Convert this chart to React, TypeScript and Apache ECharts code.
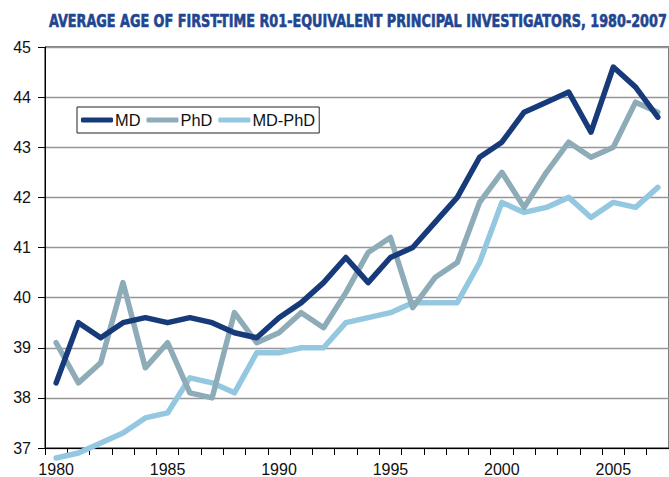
import React, { useEffect, useRef } from "react";
import * as echarts from "echarts";

const years: string[] = [
  "1980", "1981", "1982", "1983", "1984", "1985", "1986", "1987", "1988", "1989",
  "1990", "1991", "1992", "1993", "1994", "1995", "1996", "1997", "1998", "1999",
  "2000", "2001", "2002", "2003", "2004", "2005", "2006", "2007",
];

const mdValues: number[] = [
  38.3, 39.5, 39.2, 39.5, 39.6, 39.5, 39.6, 39.5, 39.3, 39.2,
  39.6, 39.9, 40.3, 40.8, 40.3, 40.8, 41.0, 41.5, 42.0, 42.8,
  43.1, 43.7, 43.9, 44.1, 43.3, 44.6, 44.2, 43.6,
];

const phdValues: number[] = [
  39.1, 38.3, 38.7, 40.3, 38.6, 39.1, 38.1, 38.0, 39.7, 39.1,
  39.3, 39.7, 39.4, 40.1, 40.9, 41.2, 39.8, 40.4, 40.7, 41.9,
  42.5, 41.8, 42.5, 43.1, 42.8, 43.0, 43.9, 43.7,
];

const mdPhdValues: number[] = [
  36.8, 36.9, 37.1, 37.3, 37.6, 37.7, 38.4, 38.3, 38.1, 38.9,
  38.9, 39.0, 39.0, 39.5, 39.6, 39.7, 39.9, 39.9, 39.9, 40.7,
  41.9, 41.7, 41.8, 42.0, 41.6, 41.9, 41.8, 42.2,
];

const seriesNames: string[] = ["MD", "PhD", "MD-PhD"];
const seriesColors: string[] = ["#173a7a", "#8eabb8", "#94c7e0"];
const titleText = "AVERAGE AGE OF FIRST-TIME R01-EQUIVALENT PRINCIPAL INVESTIGATORS, 1980-2007";

export default function App() {
  const ref = useRef<HTMLDivElement>(null);

  useEffect(() => {
    if (!ref.current) return;
    const chart = echarts.init(ref.current, undefined, { renderer: "svg" });
    const font = "'Liberation Sans', Arial, Helvetica, sans-serif";
    const titleFont = "bold 18px 'DejaVu Sans Condensed', 'Liberation Sans Narrow', sans-serif";

    // fit title to the reference width
    const targetWidth = 618;
    let scaleX = 1;
    const cv = document.createElement("canvas");
    const ctx = cv.getContext("2d");
    if (ctx) {
      ctx.font = titleFont;
      const w = ctx.measureText(titleText).width;
      if (w > 0) scaleX = targetWidth / w;
    }

    const dataSets = [mdValues, phdValues, mdPhdValues];
    chart.setOption({
      animation: false,
      backgroundColor: "#fff",
      graphic: [
        {
          type: "text",
          x: 49,
          y: 21,
          scaleX,
          scaleY: 1,
          style: {
            text: titleText,
            fill: "#1f4690",
            stroke: "#1f4690",
            lineWidth: 0.6,
            font: titleFont,
            textAlign: "left",
            textVerticalAlign: "middle",
          },
        },
      ],
      legend: {
        left: 77,
        top: 107,
        data: seriesNames,
        icon: "roundRect",
        itemWidth: 32,
        itemHeight: 5,
        itemGap: 6,
        padding: [5, 4, 5, 4],
        borderColor: "#222",
        borderWidth: 1,
        backgroundColor: "#fff",
        textStyle: { fontFamily: font, fontSize: 16.4, color: "#111", padding: [0, 0, 0, -3] },
      },
      grid: {
        left: 45,
        top: 47,
        width: 628,
        height: 402,
        show: true,
        borderColor: "#000",
        borderWidth: 1,
        backgroundColor: "transparent",
      },
      xAxis: {
        type: "category",
        data: years,
        boundaryGap: true,
        axisLine: { lineStyle: { color: "#000", width: 1 } },
        axisTick: { show: true, interval: 0, length: 7, inside: false, lineStyle: { color: "#000" } },
        axisLabel: {
          interval: 4,
          margin: 13,
          fontFamily: font,
          fontSize: 16,
          color: "#111",
        },
        splitLine: { show: false },
      },
      yAxis: {
        type: "value",
        min: 37,
        max: 45,
        interval: 1,
        axisLine: { show: true, lineStyle: { color: "#000", width: 1 } },
        axisTick: { show: true, length: 7, lineStyle: { color: "#000" } },
        axisLabel: { margin: 14, fontFamily: font, fontSize: 16, color: "#111" },
        splitLine: { show: true, lineStyle: { color: "#969696", width: 1.3 } },
      },
      series: seriesNames.map((name, i) => ({
        name,
        type: "line",
        data: dataSets[i],
        symbol: "none",
        smooth: false,
        clip: false,
        z: 3 - i,
        lineStyle: { color: seriesColors[i], width: 5.5, join: "round", cap: "round" },
        itemStyle: { color: seriesColors[i] },
      })),
    });
    return () => chart.dispose();
  }, []);

  return (
    <div
      ref={ref}
      style={{ width: 669, height: 477, position: "absolute", left: 0, top: 0 }}
    />
  );
}
